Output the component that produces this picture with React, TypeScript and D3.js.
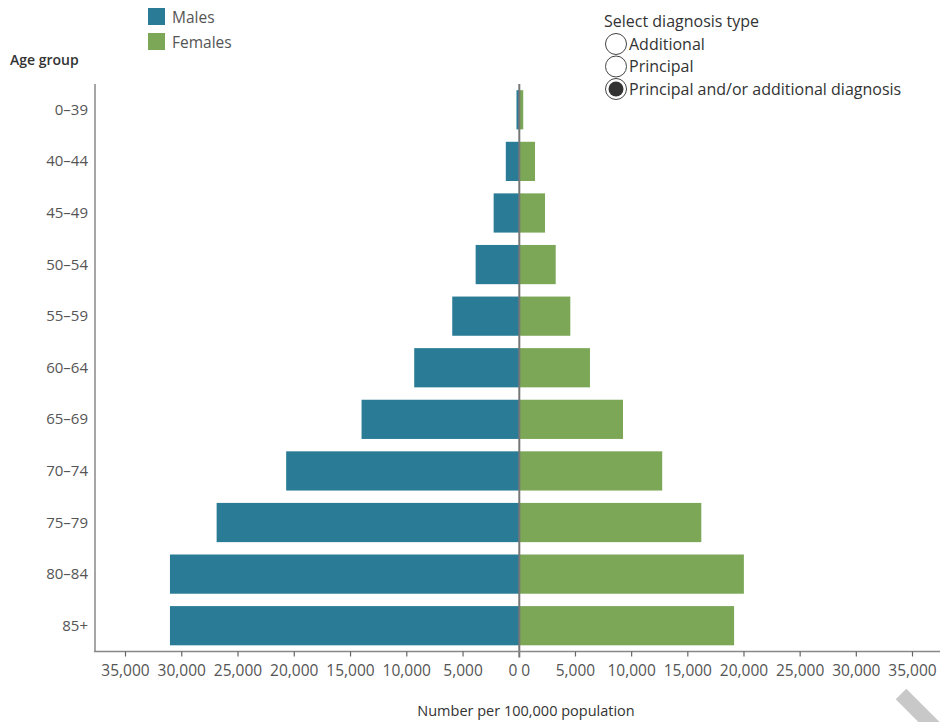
import React from "react";
import * as d3 from "d3";

const ageGroups = ["0–39", "40–44", "45–49", "50–54", "55–59", "60–64", "65–69", "70–74", "75–79", "80–84", "85+"];
const males = [250, 1200, 2280, 3880, 5960, 9340, 14020, 20720, 26900, 31050, 31050];
const females = [350, 1400, 2290, 3240, 4540, 6290, 9230, 12720, 16200, 19990, 19120];
const tickValues = [0, 5000, 10000, 15000, 20000, 25000, 30000, 35000];
const diagnosisOptions = ["Additional", "Principal", "Principal and/or additional diagnosis"];
const selectedOption = 2;

const MALE_COLOR = "#2a7b96";
const FEMALE_COLOR = "#7ba757";
const FONT = "'Open Sans', sans-serif";

export default function App() {
  const W = 940;
  const H = 722;
  const center = 519.3;
  const axisY = 651.5;

  const xMale = d3.scaleLinear().domain([0, 37800]).range([center, 94]);
  const xFemale = d3.scaleLinear().domain([0, 37270]).range([center, 938]);
  const y = d3.scaleBand<string>().domain(ageGroups).range([84, axisY]).paddingInner(0.24).paddingOuter(0.12);
  const fmt = d3.format(",");

  return (
    <svg width={W} height={H} style={{ position: "absolute", left: 0, top: 0, background: "#fff" }}>
      {/* Legend */}
      <rect x={148} y={8} width={17} height={17} fill={MALE_COLOR} />
      <text x={172} y={23} fontFamily={FONT} fontSize={15.5} fill="#555">Males</text>
      <rect x={148} y={33} width={17} height={17} fill={FEMALE_COLOR} />
      <text x={172} y={48} fontFamily={FONT} fontSize={15.5} fill="#555">Females</text>

      <text x={10} y={65} fontFamily={FONT} fontSize={14} fontWeight={600} fill="#333">Age group</text>

      {/* Diagnosis selector */}
      <text x={604} y={27} fontFamily={FONT} fontSize={16} fill="#333">Select diagnosis type</text>
      {diagnosisOptions.map((opt, i) => {
        const cy = 44 + i * 22.5;
        return (
          <g key={opt}>
            <circle cx={616} cy={cy} r={10.5} fill="#fff" stroke="#444" strokeWidth={1} />
            {i === selectedOption && <circle cx={616} cy={cy} r={7.5} fill="#333" />}
            <text x={629} y={cy + 5.5} fontFamily={FONT} fontSize={16} fill="#333">{opt}</text>
          </g>
        );
      })}

      {/* Bars */}
      {ageGroups.map((g, i) => (
        <g key={g}>
          <rect x={xMale(males[i])} y={y(g)} width={center - xMale(males[i])} height={y.bandwidth()} fill={MALE_COLOR} />
          <rect x={center} y={y(g)} width={xFemale(females[i]) - center} height={y.bandwidth()} fill={FEMALE_COLOR} />
          <text x={88} y={(y(g) as number) + y.bandwidth() / 2 + 5} textAnchor="end" fontFamily={FONT} fontSize={15} fill="#555">{g}</text>
        </g>
      ))}

      {/* Left y axis line */}
      <line x1={95} x2={95} y1={84} y2={axisY} stroke="#888" strokeWidth={1.5} />
      {/* Center line */}
      <line x1={center} x2={center} y1={84} y2={axisY + 6} stroke="#777" strokeWidth={2} />

      {/* X axis */}
      <line x1={94} x2={940} y1={axisY} y2={axisY} stroke="#888" strokeWidth={1.5} />
      {tickValues.map((t) => (
        <g key={"m" + t}>
          {t > 0 && <line x1={xMale(t)} x2={xMale(t)} y1={axisY} y2={axisY + 5} stroke="#666" strokeWidth={1.2} />}
          <text x={t === 0 ? center - 2 : xMale(t)} y={676} textAnchor={t === 0 ? "end" : "middle"} fontFamily={FONT} fontSize={15.5} fill="#555">{fmt(t)}</text>
        </g>
      ))}
      {tickValues.map((t) => (
        <g key={"f" + t}>
          {t > 0 && <line x1={xFemale(t)} x2={xFemale(t)} y1={axisY} y2={axisY + 5} stroke="#666" strokeWidth={1.2} />}
          <text x={t === 0 ? center + 2 : xFemale(t)} y={676} textAnchor={t === 0 ? "start" : "middle"} fontFamily={FONT} fontSize={15.5} fill="#555">{fmt(t)}</text>
        </g>
      ))}

      <text x={526} y={716} textAnchor="middle" fontFamily={FONT} fontSize={14.5} fill="#333">Number per 100,000 population</text>

      {/* Corner stripe */}
      <line x1={901} y1={694} x2={950} y2={743} stroke="#c8c8c8" strokeWidth={15} />
    </svg>
  );
}
